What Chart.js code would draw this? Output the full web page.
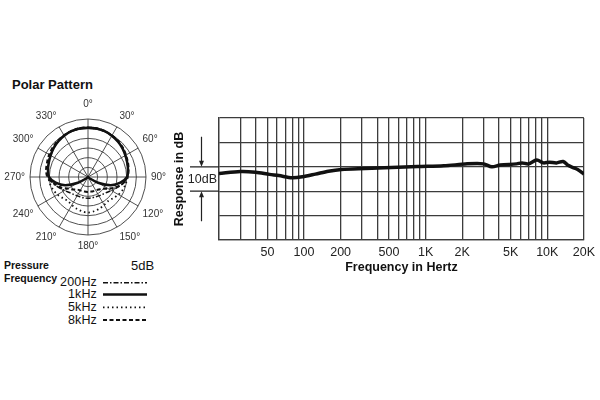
<!DOCTYPE html>
<html>
<head>
<meta charset="utf-8">
<script src="https://cdn.jsdelivr.net/npm/chart.js@4.4.1/dist/chart.umd.min.js"></script>
<style>
  body { margin: 0; background: #fff; font-family: 'Liberation Sans', Arial, sans-serif; color: #111; }
  #page { position: relative; width: 600px; height: 400px; overflow: hidden; background: #fff; }
  .box { position: absolute; white-space: nowrap; }
  .bold { font-weight: bold; }
</style>
</head>
<body>
<div id="page">
  <div class="box bold" style="left:12px;top:77px;font-size:13px;">Polar Pattern</div>
  <div class="box" style="left:-3px;top:96px;width:177px;height:159px;"><canvas id="polarChart"></canvas></div>
  <div class="box" style="left:160px;top:100px;width:440px;height:180px;"><canvas id="respChart"></canvas></div>
  <div class="box bold" style="left:4px;top:259px;font-size:10.5px;">Pressure</div>
  <div class="box bold" style="left:4px;top:272px;font-size:10.5px;">Frequency</div>
  <div class="box" style="left:131px;top:258px;font-size:13px;">5dB</div>
  <div id="legend"></div>
</div>
<script>
// polar pattern: angle in degrees, level in dB
const polarAngles = [0, 10, 20, 30, 40, 50, 60, 70, 80, 90, 100, 110, 120, 130, 140, 150, 160, 170,
  180, 190, 200, 210, 220, 230, 240, 250, 260, 270, 280, 290, 300, 310, 320, 330, 340, 350];
const polar200Hz = [0.5, 0.5, 0.2, -0.3, -0.9, -1.7, -2.6, -3.3, -3.9, -4.7, -6.5, -9, -11, -12.5, -13.3, -13.7, -14, -14,
  -14, -14, -14, -13.7, -13.3, -12.5, -11, -9, -6.5, -4.7, -3.9, -3.3, -2.6, -1.7, -0.9, -0.3, 0.2, 0.5];
const polar1kHz = [0.5, 0.5, 0.2, -0.4, -1.0, -1.8, -2.7, -3.4, -4.0, -4.8, -8, -12.5, -19, -24, -25, -25, -25, -25,
  -25, -25, -25, -25, -25, -24, -19, -12.5, -8, -4.8, -4.0, -3.4, -2.7, -1.8, -1.0, -0.4, 0.2, 0.5];
const polar5kHz = [0.4, 0.4, 0.2, -0.3, -1.0, -1.8, -2.7, -3.4, -3.9, -4.4, -5.2, -5.8, -6.8, -8, -8.8, -8.3, -7.6, -7.0,
  -6.6, -7.0, -7.6, -8.3, -8.8, -8, -6.8, -5.8, -5.0, -4.5, -3.9, -3.4, -2.7, -1.8, -1.0, -0.3, 0.2, 0.4];
const polar8kHz = [0.6, 0.6, 0.3, -0.2, -0.7, -1.4, -2.3, -3.0, -3.7, -4.6, -6.5, -9.5, -13, -15.5, -16.5, -17, -17.2, -17.3,
  -17.2, -17.3, -17.2, -17, -16.5, -15, -13, -9.5, -7, -4.0, -3.0, -2.5, -1.8, -1.2, -0.6, -0.1, 0.3, 0.6];
const seriesNames = ['200Hz', '1kHz', '5kHz', '8kHz'];

// frequency response
const respFreq = [20, 30, 40, 52, 62, 80, 97, 124, 159, 203, 318, 522, 860, 1410, 2200, 3000, 3500, 4100,
  5600, 6200, 7000, 8200, 9300, 10400, 11900, 13500, 14800, 16300, 17900, 20000];
const respDb = [-2.7, -1.9, -2.2, -3.1, -3.6, -4.5, -4.1, -3.0, -1.8, -1.1, -0.7, -0.3, 0.1, 0.4, 1.2, 1.2, 0.0, 0.7,
  1.2, 1.6, 1.2, 2.8, 1.6, 1.9, 1.6, 2.2, 0.6, -0.3, -1.2, -3.0];
const gridFreqs = [20, 30, 40, 50, 60, 70, 80, 90, 100, 200, 300, 400, 500, 600, 700, 800, 900,
  1000, 2000, 3000, 4000, 5000, 6000, 7000, 8000, 9000, 10000, 20000];
const freqTickValues = [50, 100, 200, 500, 1000, 2000, 5000, 10000, 20000];
const freqTickLabels = ['50', '100', '200', '500', '1K', '2K', '5K', '10K', '20K'];

Chart.defaults.font.family = "'Liberation Sans', Arial, sans-serif";
const ink = '#111';
const gridColor = '#3c3c3c';

const polarData = [polar200Hz, polar1kHz, polar5kHz, polar8kHz];
const lineStyles = [
  { width: 1.5, dash: [5, 2, 1.5, 2] },
  { width: 2.5, dash: [] },
  { width: 1.8, dash: [1.5, 3] },
  { width: 2, dash: [4, 2.5] }
];

const ctx1 = document.getElementById('polarChart').getContext('2d');
const ctx2 = document.getElementById('respChart').getContext('2d');

const polarChart = new Chart(ctx1, {
  type: 'radar',
  data: {
    labels: polarAngles,
    datasets: seriesNames.map((name, i) => ({
      label: name,
      data: polarData[i],
      borderColor: ink,
      backgroundColor: 'transparent',
      borderWidth: lineStyles[i].width,
      borderDash: lineStyles[i].dash,
      pointRadius: 0,
      fill: false,
      tension: 0.3,
      order: name === '1kHz' ? 0 : 1
    }))
  },
  options: {
    responsive: true,
    maintainAspectRatio: false,
    animation: false,
    plugins: { legend: { display: false }, tooltip: { enabled: false } },
    scales: {
      r: {
        min: -25,
        max: 5,
        ticks: { display: false, stepSize: 5 },
        grid: { circular: true, color: gridColor, lineWidth: 0.9 },
        angleLines: { color: gridColor, lineWidth: c => (c.index % 3 === 0 ? 0.9 : 0) },
        pointLabels: {
          font: { size: 10 },
          color: '#333',
          padding: c => (c.index === 0 ? 9 : 5),
          callback: (label, i) => (i % 3 === 0 ? label + '°' : '')
        }
      }
    }
  }
});

// the "10dB" scale marker left of the response grid
const tenDbMarker = {
  id: 'tenDbMarker',
  afterDraw(chart) {
    const { ctx, chartArea, scales } = chart;
    const y0 = scales.y.getPixelForValue(0);
    const y1 = scales.y.getPixelForValue(-10);
    const left = chartArea.left;
    const ax = left - 17.5;
    ctx.save();
    ctx.strokeStyle = '#222';
    ctx.fillStyle = '#222';
    ctx.lineWidth = 1.2;
    ctx.beginPath();
    ctx.moveTo(left - 29, y0); ctx.lineTo(left, y0);
    ctx.moveTo(left - 29, y1); ctx.lineTo(left, y1);
    ctx.moveTo(ax, y0 - 30); ctx.lineTo(ax, y0 - 5);
    ctx.moveTo(ax, y1 + 30); ctx.lineTo(ax, y1 + 5);
    ctx.stroke();
    ctx.beginPath();
    ctx.moveTo(ax - 2.5, y0 - 6); ctx.lineTo(ax + 2.5, y0 - 6); ctx.lineTo(ax, y0); ctx.closePath();
    ctx.moveTo(ax - 2.5, y1 + 6); ctx.lineTo(ax + 2.5, y1 + 6); ctx.lineTo(ax, y1); ctx.closePath();
    ctx.fill();
    ctx.font = "12.5px 'Liberation Sans', Arial, sans-serif";
    ctx.textAlign = 'right';
    ctx.textBaseline = 'middle';
    ctx.fillText('10dB', left - 2, (y0 + y1) / 2 + 1);
    ctx.restore();
  }
};

const respChart = new Chart(ctx2, {
  type: 'line',
  data: {
    datasets: [{
      label: 'Response',
      data: respFreq.map((f, i) => ({ x: f, y: respDb[i] })),
      borderColor: ink,
      borderWidth: 3.5,
      pointRadius: 0,
      tension: 0.3,
      fill: false
    }]
  },
  options: {
    responsive: true,
    maintainAspectRatio: false,
    animation: false,
    layout: { padding: { top: 18, right: 12, left: 0, bottom: 0 } },
    plugins: { legend: { display: false }, tooltip: { enabled: false } },
    scales: {
      x: {
        type: 'logarithmic',
        min: 20,
        max: 20000,
        afterBuildTicks: s => { s.ticks = gridFreqs.map(v => ({ value: v })); },
        afterFit: s => { s.height = 40; },
        grid: { color: gridColor, lineWidth: 1.3, drawTicks: false },
        border: { color: gridColor, width: 1.3 },
        ticks: {
          autoSkip: false,
          maxRotation: 0,
          padding: 5,
          color: '#222',
          font: { size: 12.5 },
          callback: v => {
            const i = freqTickValues.indexOf(v);
            return i >= 0 ? freqTickLabels[i] : '';
          }
        },
        title: {
          display: true,
          text: 'Frequency in Hertz',
          color: ink,
          font: { size: 12.5, weight: 'bold' },
          padding: { top: 0, bottom: 5 }
        }
      },
      y: {
        min: -30,
        max: 20,
        afterFit: s => { s.width = 59; },
        ticks: { display: false, stepSize: 10 },
        grid: { color: gridColor, lineWidth: 1.3, drawTicks: false },
        border: { color: gridColor, width: 1.3 },
        title: {
          display: true,
          text: 'Response in dB',
          color: ink,
          font: { size: 12.5, weight: 'bold' },
          padding: { top: 12, bottom: 0 }
        }
      }
    }
  },
  plugins: [tenDbMarker]
});

// legend: label text, then a short sample of the line style
const rowY = [282.7, 294.5, 307.3, 320];
const legend = document.getElementById('legend');
let svg = '<svg class="box" style="left:100px;top:270px" width="52" height="60">';
seriesNames.forEach((name, i) => {
  const row = document.createElement('div');
  row.className = 'box';
  row.style.cssText = 'left:30px;width:67px;text-align:right;font-size:12.5px;letter-spacing:0.15px;line-height:15px;top:' + (rowY[i] - 7.5) + 'px';
  row.textContent = name;
  legend.appendChild(row);
  const y = rowY[i] - 270;
  svg += '<line x1="3" x2="47" y1="' + y + '" y2="' + y + '" stroke="' + ink + '" stroke-width="' + lineStyles[i].width +
    '" stroke-dasharray="' + lineStyles[i].dash.join(' ') + '"/>';
});
svg += '</svg>';
legend.insertAdjacentHTML('beforeend', svg);
</script>
</body>
</html>
